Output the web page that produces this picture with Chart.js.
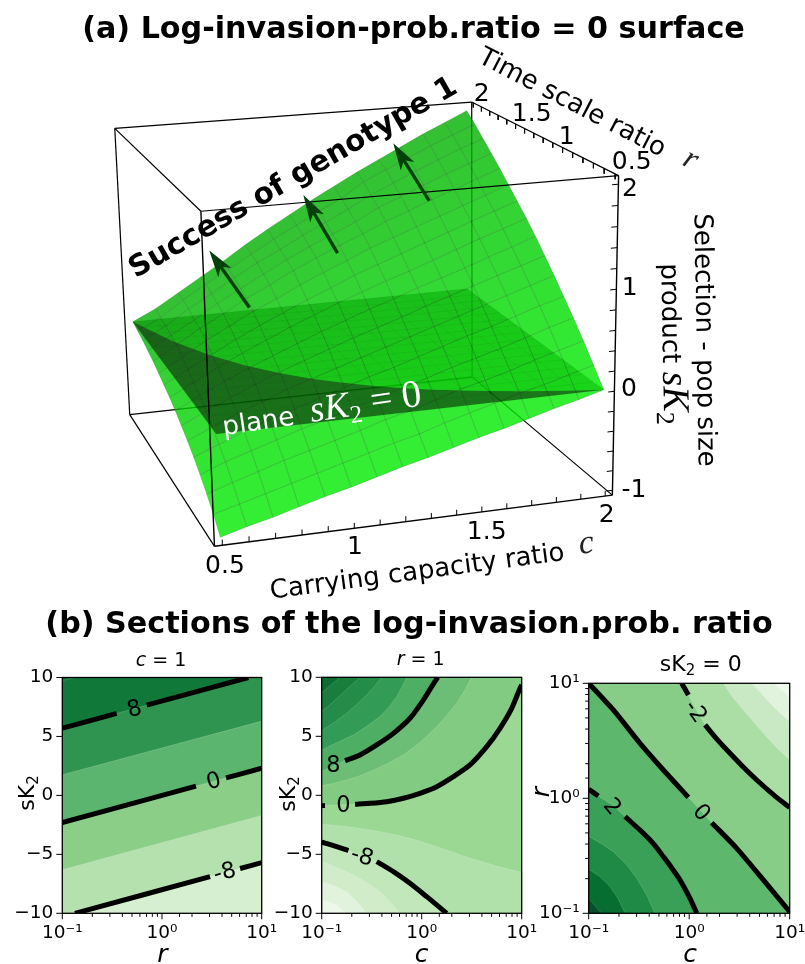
<!DOCTYPE html>
<html>
<head>
<meta charset="UTF-8">
<title>Log-invasion-prob ratio</title>
<script src="https://cdn.jsdelivr.net/npm/chart.js"></script>
<style>
html, body { margin: 0; background: #fff; overflow: hidden; width: 805px; height: 964px; }
canvas { position: absolute; }
</style>
</head>
<body>
<canvas id="surface" width="805" height="640" style="left:0;top:0"></canvas>
<canvas id="sec1" width="290" height="324" style="left:0;top:640px"></canvas>
<canvas id="sec2" width="290" height="324" style="left:270px;top:640px"></canvas>
<canvas id="sec3" width="290" height="324" style="left:530px;top:640px"></canvas>
<script>
// panel (a): surface, rows are r, columns are c
var cGrid = [0.5,0.6,0.7,0.8,0.9,1.0,1.1,1.2,1.3,1.4,1.5,1.6,1.7,1.8,1.9,2.0];
var rGrid = [0.5,0.6,0.7,0.8,0.9,1.0,1.1,1.2,1.3,1.4,1.5,1.6,1.7,1.8,1.9,2.0];
var surfaceZ = [
[-1.00,-.93,-.87,-.80,-.73,-.67,-.60,-.53,-.47,-.40,-.33,-.27,-.20,-.13,-.07,0],
[-.87,-.80,-.73,-.66,-.59,-.52,-.45,-.38,-.32,-.24,-.17,-.10,-.03,.03,.10,.17],
[-.76,-.68,-.60,-.52,-.45,-.38,-.31,-.23,-.17,-.09,-.01,.05,.12,.20,.27,.34],
[-.66,-.56,-.48,-.40,-.32,-.25,-.17,-.10,-.02,.05,.13,.20,.27,.35,.43,.50],
[-.57,-.47,-.37,-.28,-.20,-.12,-.04,.04,.11,.19,.27,.35,.42,.50,.58,.65],
[-.49,-.38,-.27,-.18,-.08,0,.08,.16,.24,.32,.40,.48,.56,.64,.72,.80],
[-.42,-.30,-.19,-.08,.02,.11,.20,.29,.37,.45,.54,.62,.70,.78,.86,.94],
[-.35,-.22,-.10,.01,.11,.21,.31,.40,.49,.57,.66,.74,.82,.91,.99,1.08],
[-.29,-.16,-.03,.09,.20,.31,.41,.51,.60,.69,.77,.86,.95,1.04,1.12,1.21],
[-.24,-.10,.03,.16,.28,.39,.50,.60,.71,.80,.89,.98,1.07,1.16,1.25,1.33],
[-.19,-.05,.10,.23,.36,.47,.59,.70,.80,.91,1.00,1.09,1.18,1.27,1.36,1.45],
[-.14,.01,.16,.29,.43,.55,.68,.79,.90,1.00,1.11,1.20,1.30,1.39,1.48,1.57],
[-.10,.04,.18,.33,.47,.60,.73,.85,.96,1.07,1.20,1.30,1.40,1.50,1.59,1.68],
[-.06,.07,.23,.37,.52,.66,.78,.91,1.03,1.15,1.28,1.39,1.50,1.60,1.70,1.79],
[-.03,.09,.26,.41,.55,.69,.83,.96,1.09,1.21,1.37,1.48,1.59,1.70,1.80,1.90],
[0,.12,.27,.42,.57,.73,.88,1.02,1.16,1.29,1.42,1.54,1.66,1.78,1.89,2.00]
];
// where the surface crosses the plane sK2 = 0, one r for each c in cGrid
var zeroCurveR = [2,1.667,1.429,1.25,1.111,1,.909,.833,.769,.714,.667,.625,.588,.556,.526,.5];
var cTicks = [.5,.6,.7,.8,.9,1,1.1,1.2,1.3,1.4,1.5,1.6,1.7,1.8,1.9,2];
var rTicks = [.5,.6,.7,.8,.9,1,1.1,1.2,1.3,1.4,1.5,1.6,1.7,1.8,1.9,2];
var zTicks = [-1,-.8,-.6,-.4,-.2,0,.2,.4,.6,.8,1,1.2,1.4,1.6,1.8,2];
// arrows, tail then tip as [c, r, sK2]
var arrow1 = [[.92,1.64,.3],[.82,1.90,.77]];
var arrow2 = [[1.29,1.6,.82],[1.22,1.85,1.31]];
var arrow3 = [[1.655,1.5,1.35],[1.58,1.735,1.85]];

// panel (b) sections: points are [log10 x, y]
var sec1M8 = [[-.873,-10],[1,-5.7]];
var sec1M4 = [[-1,-6.3],[1,-1.7]];
var sec1Z = [[-1,-2.3],[1,2.3]];
var sec1P4 = [[-1,1.75],[1,6.3]];
var sec1P8 = [[-1,5.7],[.866,10]];
var sec1P12 = [[-1,9.75],[-.87,10]];
var sec1Colors = ['#d7efd1','#b5e1ae','#8bce88','#5cb56f','#2f9450','#10793a','#0b7336'];
var sec1Black8 = [[-1,5.7],[-.455,6.95],null,[-.154,7.65],[.866,10]];
var sec1Black0 = [[-1,-2.3],[.341,.78],null,[.642,1.48],[1,2.3]];
var sec1BlackM8 = [[-.873,-10],[.482,-6.89],null,[.783,-6.2],[1,-5.7]];

var sec2M20 = [[-1,-8.87],[-.85,-9.29],[-.767,-10]];
var sec2M16 = [[-1,-7.32],[-.88,-7.65],[-.75,-8.16],[-.65,-9],[-.55,-10]];
var sec2M12 = [[-1,-5.62],[-.85,-6.1],[-.683,-6.75],[-.55,-7.4],[-.417,-8.16],[-.32,-9],[-.217,-10]];
var sec2M8 = [[-1,-3.98],[-.883,-4.27],[-.733,-4.69],[-.45,-5.62],[-.283,-6.47],[-.117,-7.46],[.05,-8.59],[.15,-9.29],[.25,-10]];
var sec2M4 = [[-1,-2.46],[-.75,-2.65],[-.517,-2.94],[-.35,-3.2],[-.183,-3.5],[-.02,-3.9],[.15,-4.35],[.32,-4.85],[.483,-5.34],[.75,-6],[1,-6.55]];
var sec2Z = [[-1,-.88],[-.967,-.87],[-.667,-.76],[-.517,-.68],[-.35,-.54],[-.183,-.25],[-.017,.17],[.15,.73],[.317,1.58],[.483,2.57],[.65,4.12],[.783,5.68],[.9,7.37],[.983,9.07],[1,9.35]];
var sec2P4 = [[-1,.82],[-.87,1.03],[-.75,1.3],[-.63,1.62],[-.517,2],[-.35,2.65],[-.183,3.42],[-.02,4.45],[.15,5.82],[.25,6.75],[.35,7.8],[.43,8.9],[.5,10]];
var sec2P8 = [[-1,2],[-.767,2.94],[-.617,3.42],[-.45,4.27],[-.283,5.25],[-.117,6.53],[.017,8.08],[.1,9.21],[.16,10]];
var sec2P12 = [[-1,3.84],[-.85,4.45],[-.683,5.11],[-.55,5.85],[-.417,6.67],[-.33,7.45],[-.25,8.36],[-.195,9.2],[-.15,10]];
var sec2P16 = [[-1,5.48],[-.87,6.2],[-.75,6.95],[-.65,7.7],[-.55,8.5],[-.47,9.25],[-.4,10]];
var sec2P20 = [[-1,7.09],[-.92,7.65],[-.817,8.45],[-.72,9.2],[-.617,10]];
var sec2P24 = [[-1,8.64],[-.95,9.05],[-.9,9.4],[-.817,10]];
var sec2Colors = ['#eef8ea','#e1f3dc','#d0ecc9','#c2e7bb','#b0e1aa','#9bd894','#82cb82','#6cbe76','#4eaf64','#329b55','#238c48','#197d3c','#0a6e32'];

var sec3A = [[.838,1],[.937,.928],[1,.87]];
var sec3B = [[.622,1],[.71,.92],[.804,.826],[.9,.745],[1,.667]];
var sec3C = [[.34,1],[.43,.88],[.539,.768],[.64,.665],[.738,.565],[.87,.44],[1,.333]];
var sec3M2 = [[-.075,1],[-.008,.899],[.07,.77],[.158,.638],[.28,.51],[.406,.391],[.54,.27],[.672,.159],[.84,.03],[1,-.081]];
var sec3Z = [[-1,1],[-.755,.768],[-.489,.478],[-.257,.246],[-.008,.009],[.224,-.212],[.473,-.435],[.738,-.71],[1,-.986]];
var sec3P2 = [[-1,.078],[-.904,.02],[-.755,-.064],[-.638,-.159],[-.456,-.304],[-.35,-.4],[-.257,-.507],[-.17,-.61],[-.091,-.71],[.008,-.87],[.075,-1]];
var sec3D = [[-1,-.333],[-.88,-.39],[-.755,-.464],[-.63,-.57],[-.522,-.696],[-.43,-.83],[-.34,-1]];
var sec3E = [[-1,-.617],[-.89,-.68],[-.788,-.768],[-.71,-.87],[-.638,-1]];
var sec3F = [[-1,-.87],[-.871,-1]];
var sec3Colors = ['#f0f8ec','#e1f3dc','#c8e9c3','#aadea5','#87cd87','#5db86e','#3aa058','#1f8a46','#056e30','#05502a'];

Chart.defaults.animation = false;
Chart.defaults.plugins.legend.display = false;
Chart.defaults.plugins.tooltip.enabled = false;

var SANS = '"DejaVu Sans"';
var SERIF = '"Liberation Serif"';

function drawRuns(ctx, runs, x, y, deg, color) {
    ctx.save();
    ctx.translate(x, y);
    ctx.rotate(deg * Math.PI / 180);
    ctx.textBaseline = 'alphabetic';
    ctx.textAlign = 'left';
    ctx.fillStyle = color || '#000';
    var total = 0;
    runs.forEach(function (r) { ctx.font = r[1]; total += ctx.measureText(r[0]).width; });
    var size = parseFloat(runs[0][1].match(/([\d.]+)px/)[1]);
    var cx = -total / 2;
    runs.forEach(function (r) {
        ctx.font = r[1];
        ctx.fillText(r[0], cx, size * 0.36 + (r[2] || 0));
        cx += ctx.measureText(r[0]).width;
    });
    ctx.restore();
}

// ---- camera for panel (a): fitted to the box corners of the picture
var cLim = [.47, 2.03], rLim = [.47, 2.02], zLim = [-1.05, 2.08];
var boxCorners = [
    [0,0,0,214.3,546.7],[1,0,0,612.7,495],[0,1,0,130,414],[1,1,0,471.7,377.3],
    [0,0,1,201.3,211.7],[1,0,1,618,175],[0,1,1,114.3,128.3],[1,1,1,472.3,102.3]
];
function fitCamera() {
    var rows = [];
    boxCorners.forEach(function (k) {
        rows.push([1,k[0],k[1],k[2],0,0,0,0,-k[3]*k[0],-k[3]*k[1],-k[3]*k[2],k[3]]);
        rows.push([0,0,0,0,1,k[0],k[1],k[2],-k[4]*k[0],-k[4]*k[1],-k[4]*k[2],k[4]]);
    });
    var n = 11, M = [];
    for (var i = 0; i < n; i++) {
        M.push([]);
        for (var j = 0; j <= n; j++) {
            var s = 0;
            rows.forEach(function (row) { s += row[i] * row[j]; });
            M[i].push(s);
        }
    }
    for (i = 0; i < n; i++) {
        var p = i;
        for (j = i + 1; j < n; j++) if (Math.abs(M[j][i]) > Math.abs(M[p][i])) p = j;
        var t = M[i]; M[i] = M[p]; M[p] = t;
        for (j = 0; j < n; j++) {
            if (j === i) continue;
            var f = M[j][i] / M[i][i];
            for (var k = i; k <= n; k++) M[j][k] -= f * M[i][k];
        }
    }
    return M.map(function (row, idx) { return row[n] / row[idx]; });
}
var cam = fitCamera();
function project(c, r, z) {
    var a = (c - cLim[0]) / (cLim[1] - cLim[0]);
    var b = (r - rLim[0]) / (rLim[1] - rLim[0]);
    var d = (z - zLim[0]) / (zLim[1] - zLim[0]);
    var w = 1 + cam[8]*a + cam[9]*b + cam[10]*d;
    return [(cam[0]+cam[1]*a+cam[2]*b+cam[3]*d)/w, (cam[4]+cam[5]*a+cam[6]*b+cam[7]*d)/w];
}

function toPts(list) {
    return list.map(function (p) { return p ? { x: p[0], y: p[1] } : { x: 1, y: null }; });
}
function polygon(list, fillColor, edge, edgeWidth) {
    return { data: toPts(list), showLine: true, fill: 'shape', backgroundColor: fillColor,
        borderColor: edge || 'transparent', borderWidth: edgeWidth || 0, pointRadius: 0, tension: 0 };
}
function path(list, color, width, tension) {
    return { data: toPts(list), showLine: true, fill: false, borderColor: color, borderWidth: width,
        pointRadius: 0, tension: tension || 0, borderCapStyle: 'butt' };
}

// ---- panel (a)
var layers = [];
function boxEdge(a, b, color, width) { layers.push(path([project.apply(null, a), project.apply(null, b)], color, width)); }
var cL = cLim[0], cH = cLim[1], rL = rLim[0], rH = rLim[1], zL = zLim[0], zH = zLim[1];

// edges behind the surface first
boxEdge([cH,rH,zL],[cH,rH,zH],'#000',1.2);
boxEdge([cL,rH,zL],[cH,rH,zL],'#000',1.2);
boxEdge([cH,rH,zL],[cH,rL,zL],'#000',1.2);

var zeroPts = cGrid.map(function (c, k) { return project(c, zeroCurveR[k], 0); });
var planeUnder = zeroPts.concat([project(2,2,0)]);
layers.push(polygon(planeUnder, 'rgba(0,0,0,.5)'));

for (var i = 0; i < rGrid.length - 1; i++) {
    for (var j = 0; j < cGrid.length - 1; j++) {
        var rMid = (rGrid[i] + rGrid[i+1]) / 2;
        var seen = 240 - 50 * (rMid - .5) / 1.5;
        var green = Math.round((seen - 51) / .8);
        layers.push(polygon([
            project(cGrid[j], rGrid[i], surfaceZ[i][j]),
            project(cGrid[j+1], rGrid[i], surfaceZ[i][j+1]),
            project(cGrid[j+1], rGrid[i+1], surfaceZ[i+1][j+1]),
            project(cGrid[j], rGrid[i+1], surfaceZ[i+1][j]),
            project(cGrid[j], rGrid[i], surfaceZ[i][j])
        ], 'rgba(0,' + green + ',0,.8)', 'rgba(0,70,0,.26)', .7));
    }
}

var planeOver = zeroPts.concat([project(.5,.5,0)]);
layers.push(polygon(planeOver, 'rgba(0,0,0,.5)'));

// plane mesh, seen through everything
var planeMesh = [];
cGrid.forEach(function (c) { planeMesh.push(project(c,.5,0), project(c,2,0), null); });
rGrid.forEach(function (r) { planeMesh.push(project(.5,r,0), project(2,r,0), null); });
layers.push(path(planeMesh, 'rgba(0,50,0,.12)', .6));

// edges in front
boxEdge([cL,rL,zH],[cH,rL,zH],'#000',1.2);
boxEdge([cL,rL,zH],[cL,rH,zH],'#000',1.2);
boxEdge([cL,rH,zH],[cH,rH,zH],'#000',1.2);
boxEdge([cH,rL,zH],[cH,rH,zH],'#000',1.2);
boxEdge([cL,rL,zL],[cL,rL,zH],'#000',1.4);
boxEdge([cL,rH,zL],[cL,rH,zH],'#000',1.2);
boxEdge([cH,rL,zL],[cH,rL,zH],'#000',1.4);
boxEdge([cL,rL,zL],[cH,rL,zL],'#000',1.4);
boxEdge([cL,rL,zL],[cL,rH,zL],'#000',1.2);

cTicks.forEach(function (c) { boxEdge([c,rL,zL],[c,rL,zL+.055],'#000',1); });
rTicks.forEach(function (r) { boxEdge([cH,r,zH],[cH,r,zH-.05],'#000',1); });
zTicks.forEach(function (z) { boxEdge([cH,rL,z],[cH-.025,rL,z],'#000',1); });

function addArrow(a) {
    var tail = project.apply(null, a[0]), tip = project.apply(null, a[1]);
    var dx = tip[0]-tail[0], dy = tip[1]-tail[1], len = Math.hypot(dx, dy);
    var ux = dx/len, uy = dy/len;
    function at(along, side) { return [tip[0]-ux*along-uy*side, tip[1]-uy*along+ux*side]; }
    layers.push(path([tail, at(18,0)], '#04400a', 3.4));
    layers.push(polygon([tip, at(27,8), at(20,0), at(27,-8), tip], '#04400a'));
}
addArrow(arrow1); addArrow(arrow2); addArrow(arrow3);

new Chart(document.getElementById('surface'), {
    type: 'scatter',
    data: { datasets: layers.slice().reverse() },
    options: {
        responsive: false,
        layout: { padding: 0 },
        scales: {
            x: { type: 'linear', min: 0, max: 805, display: false },
            y: { type: 'linear', min: 0, max: 640, reverse: true, display: false }
        }
    },
    plugins: [{
        id: 'surfaceText',
        afterDatasetsDraw: function (chart) {
            var ctx = chart.ctx;
            var bold30 = 'bold 30.2px ' + SANS, t26 = '26px ' + SANS, t25 = '25px ' + SANS;
            drawRuns(ctx, [['(a) Log-invasion-prob.ratio = 0 surface', bold30]], 413.5, 27, 0);
            drawRuns(ctx, [['(b) Sections of the log-invasion.prob. ratio', bold30]], 409, 622, 0);
            drawRuns(ctx, [['Success of genotype 1', 'bold 29.5px ' + SANS]], 292, 176, -30);
            drawRuns(ctx, [['Time scale ratio', t26]], 573, 101, 27.4);
            drawRuns(ctx, [['r', 'italic 32px ' + SERIF]], 692, 157, 27, '#222');
            drawRuns(ctx, [['Carrying capacity ratio', t26]], 417, 570, -7.5);
            drawRuns(ctx, [['c', 'italic 34px ' + SERIF]], 586, 541, -7.5, '#222');
            drawRuns(ctx, [['Selection - pop size', t26]], 706, 340, 89);
            drawRuns(ctx, [['product ', t26], ['sK', 'italic 38px ' + SERIF], ['2', '26px ' + SERIF, 7]], 672, 344, 89);
            drawRuns(ctx, [['plane  ', t26], ['sK', 'italic 37px ' + SERIF], ['2', '25px ' + SERIF, 7], [' = 0', '39px ' + SERIF]], 322, 411, -8.5, '#fff');
            [['2',481.7,91.7],['1.5',531.7,111.7],['1',566.7,135],['0.5',631.7,160],
             ['2',630,186.7],['1',629.7,286],['0',629,387],['-1',634,488],
             ['0.5',225,564],['1',355,545],['1.5',486.7,530],['2',606.7,513]].forEach(function (t) {
                drawRuns(ctx, [[t[0], t25]], t[1], t[2], 0);
            });
        }
    }]
});

// ---- panel (b)
function isDecade(v) {
    var l = Math.log10(v);
    return Math.abs(l - Math.round(l)) < 1e-6;
}
var SUPER = { '-1': '10\u207B\u00B9', '0': '10\u2070', '1': '10\u00B9' };
function logAxis(size) {
    return {
        type: 'logarithmic', min: .1, max: 10,
        border: { display: false },
        grid: { drawOnChartArea: false, tickColor: 'transparent', tickLength: 6 },
        ticks: {
            color: '#000', padding: 3, autoSkip: false, maxRotation: 0, minRotation: 0,
            font: { family: 'DejaVu Sans', size: 18.5 },
            callback: function (v) { return isDecade(v) ? SUPER[String(Math.round(Math.log10(v)))] : ''; }
        },
        afterFit: size
    };
}
function linAxis(size) {
    return {
        type: 'linear', min: -10, max: 10,
        border: { display: false },
        grid: { drawOnChartArea: false, tickColor: 'transparent', tickLength: 6 },
        ticks: {
            color: '#000', padding: 3, stepSize: 5, font: { family: 'DejaVu Sans', size: 18.5 },
            callback: function (v) { return String(v).replace('-', '\u2212'); }
        },
        afterFit: size
    };
}
function fixW(w) { return function (s) { s.width = w; s.paddingTop = 0; s.paddingBottom = 0; }; }
function fixH(h) { return function (s) { s.height = h; s.paddingLeft = 0; s.paddingRight = 0; }; }

function section(id, yLog, sets, yWidth, rightPad, topPad, texts, labels) {
    new Chart(document.getElementById(id), {
        type: 'scatter',
        data: { datasets: sets.slice().reverse() },
        options: {
            responsive: false,
            layout: { padding: { top: topPad, right: rightPad, left: 0, bottom: 0 } },
            scales: {
                x: logAxis(fixH(50.7)),
                y: yLog ? logAxis(fixW(yWidth)) : linAxis(fixW(yWidth))
            }
        },
        plugins: [{
            id: 'sectionDecor',
            afterDatasetsDraw: function (chart) {
                var ctx = chart.ctx, a = chart.chartArea, sx = chart.scales.x, sy = chart.scales.y;
                labels.forEach(function (l) {
                    var px = sx.getPixelForValue(Math.pow(10, l[1]));
                    var py = sy.getPixelForValue(yLog ? Math.pow(10, l[2]) : l[2]);
                    drawRuns(ctx, [[l[0], '22.5px ' + SANS]], px, py, l[3]);
                });
                ctx.strokeStyle = '#000';
                ctx.lineWidth = 1.3;
                ctx.strokeRect(a.left, a.top, a.right - a.left, a.bottom - a.top);
                ctx.lineWidth = 1;
                sx.ticks.forEach(function (t) {
                    var p = sx.getPixelForValue(t.value), len = isDecade(t.value) ? 6 : 3.5;
                    ctx.beginPath(); ctx.moveTo(p, a.bottom); ctx.lineTo(p, a.bottom + len); ctx.stroke();
                });
                sy.ticks.forEach(function (t) {
                    var p = sy.getPixelForValue(t.value), len = (!yLog || isDecade(t.value)) ? 6 : 3.5;
                    ctx.beginPath(); ctx.moveTo(a.left, p); ctx.lineTo(a.left - len, p); ctx.stroke();
                });
                texts.forEach(function (t) { drawRuns(ctx, t[0], t[1], t[2], t[3] || 0); });
            }
        }]
    });
}

function exp2(list, yLog) {
    return list.map(function (p) {
        return p ? [Math.pow(10, p[0]), yLog ? Math.pow(10, p[1]) : p[1]] : null;
    });
}
// black contour with the piece under its label taken out
function cut(curve, a, b) {
    var left = curve.filter(function (p) { return p[0] <= a; });
    var right = curve.filter(function (p) { return p[0] >= b; });
    return left.concat([null], right);
}
// painter's order: each entry is one region, curve plus the plot corners that close it
function buildSets(yLog, base, regions, colors, blacks) {
    var sets = [polygon(exp2(base, yLog), colors[0])];
    regions.forEach(function (rg, n) {
        sets.push(polygon(exp2(rg[0].concat(rg[1]), yLog), colors[n + 1]));
    });
    regions.forEach(function (rg) {
        sets.push(path(exp2(rg[0], yLog), 'rgba(255,255,255,.28)', .6));
    });
    blacks.forEach(function (b) { sets.push(path(exp2(b, yLog), '#000', 5, .25)); });
    return sets;
}

var italic = 'italic 19px ' + SANS, plain = '19px ' + SANS;
var frameLin = [[-1,-10],[1,-10],[1,10],[-1,10]];
var frameLog = [[-1,-1],[1,-1],[1,1],[-1,1]];
var skLabel = [['sK', '22px ' + SANS], ['2', '15px ' + SANS, 4]];
var axisR = 'italic 25px ' + SANS;

section('sec1', false, buildSets(false, frameLin, [
    [sec1M8, [[1,10],[-1,10],[-1,-10]]],
    [sec1M4, [[1,10],[-1,10]]],
    [sec1Z, [[1,10],[-1,10]]],
    [sec1P4, [[1,10],[-1,10]]],
    [sec1P8, [[-1,10]]],
    [sec1P12, [[-1,10]]]
], sec1Colors, [sec1Black8, sec1Black0, sec1BlackM8]), 62.3, 28.3, 37.5, [
    [[['c', italic], [' = 1', plain]], 161, 19],
    [[['r', axisR]], 162.3, 313],
    [skLabel, 26, 153, -90]
], [['8', -.281, 7.45, -15], ['0', .515, 1.32, -15], ['-8', .625, -6.4, -15]]);

section('sec2', false, buildSets(false, frameLin, [
    [sec2M20, [[1,-10],[1,10],[-1,10]]],
    [sec2M16, [[1,-10],[1,10],[-1,10]]],
    [sec2M12, [[1,-10],[1,10],[-1,10]]],
    [sec2M8, [[1,-10],[1,10],[-1,10]]],
    [sec2M4, [[1,10],[-1,10]]],
    [sec2Z, [[1,10],[-1,10]]],
    [sec2P4, [[-1,10]]],
    [sec2P8, [[-1,10]]],
    [sec2P12, [[-1,10]]],
    [sec2P16, [[-1,10]]],
    [sec2P20, [[-1,10]]],
    [sec2P24, [[-1,10]]]
], sec2Colors, [cut(sec2P8, -2, -.767), cut(sec2Z, -.967, -.667), cut(sec2M8, -.733, -.45)]), 51.7, 38.3, 37.3, [
    [[['r', italic], [' = 1', plain]], 150.7, 18],
    [[['c', axisR]], 151.7, 313],
    [skLabel, 17, 154, -90]
], [['8', -.883, 2.66, 0], ['0', -.783, -.73, 0], ['-8', -.59, -5.06, 17]]);

section('sec3', true, buildSets(true, frameLog, [
    [sec3A, [[1,-1],[-1,-1],[-1,1]]],
    [sec3B, [[1,-1],[-1,-1],[-1,1]]],
    [sec3C, [[1,-1],[-1,-1],[-1,1]]],
    [sec3M2, [[1,-1],[-1,-1],[-1,1]]],
    [sec3Z, [[1,-1],[-1,-1]]],
    [sec3P2, [[-1,-1]]],
    [sec3D, [[-1,-1]]],
    [sec3E, [[-1,-1]]],
    [sec3F, [[-1,-1]]]
], sec3Colors, [cut(sec3M2, -.008, .158), cut(sec3Z, -.008, .224), cut(sec3P2, -.904, -.638)]), 58.7, 30.3, 43.3, [
    [[['sK', '22px ' + SANS], ['2', '15px ' + SANS, 4], [' = 0', '22px ' + SANS]], 170.7, 22.7],
    [[['c', axisR]], 160, 313],
    [[['r', axisR]], 10, 152, -90]
], [['2', -.755, -.064, 50], ['0', .134, -.116, 48], ['-2', .075, .762, 55]]);
</script>
</body>
</html>
